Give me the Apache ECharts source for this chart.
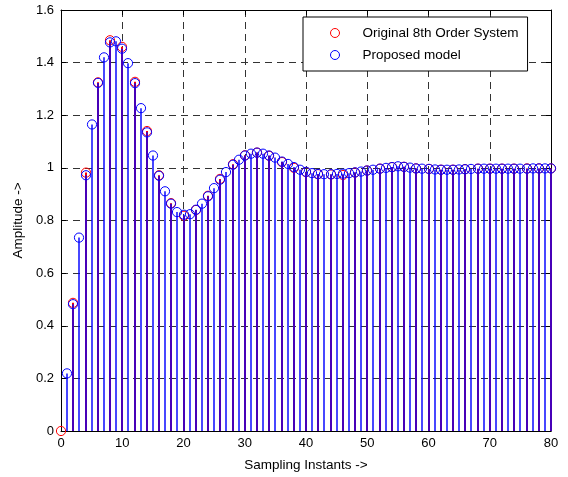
<!DOCTYPE html>
<html>
<head>
<meta charset="utf-8">
<script src="https://cdn.jsdelivr.net/npm/echarts@6/dist/echarts.min.js"></script>
<style>html,body{margin:0;padding:0;background:#fff;}#c{width:568px;height:477px;}</style>
</head>
<body>
<div id="c"></div>
<script>
// Proposed model: samples n = 1..80
var blueIdx = [];
for (var i = 1; i <= 80; i++) blueIdx.push(i);
var blueVals = [0.219,0.482,0.735,0.972,1.165,1.323,1.420,1.477,1.481,1.453,
  1.398,1.322,1.227,1.135,1.047,0.970,0.911,0.864,0.832,0.822,
  0.824,0.841,0.864,0.892,0.923,0.955,0.984,1.012,1.031,1.047,
  1.054,1.058,1.054,1.047,1.039,1.024,1.015,1.003,0.993,0.985,
  0.980,0.977,0.976,0.976,0.977,0.978,0.980,0.983,0.986,0.990,
  0.993,0.997,1.000,1.003,1.006,1.004,1.001,0.998,0.997,0.996,
  0.994,0.993,0.993,0.993,0.994,0.995,0.996,0.997,0.997,0.997,
  0.997,0.997,0.997,0.997,0.997,0.997,0.998,0.998,0.998,0.998];
// Original 8th order system: samples n = 0,2,...,80
var redIdx = [];
for (var j = 0; j <= 80; j += 2) redIdx.push(j);
var redVals = [0,0.487,0.982,1.325,1.485,1.460,1.327,1.140,0.972,0.866,
  0.818,0.840,0.894,0.958,1.014,1.048,1.058,1.046,1.022,1.000,
  0.984,0.976,0.975,0.973,0.982,0.990,0.997,1.003,1.004,0.998,
  0.996,0.993,0.993,0.995,0.997,0.997,0.997,0.997,0.998,0.998,0.998];
var xTicks = [0,10,20,30,40,50,60,70,80];
var yTicks = [0,0.2,0.4,0.6,0.8,1,1.2,1.4,1.6];

function pairs(xs, ys){ return xs.map(function(x,k){ return [x, ys[k]]; }); }

function stem(lineColor, lineW, markColor){
  return function(params, api){
    var x = api.value(0), y = api.value(1);
    var p0 = api.coord([x, 0]);
    var p1 = api.coord([x, y]);
    var px = Math.round(p0[0]);
    return {type:'group', children:[
      {type:'line', shape:{x1:px, y1:p0[1], x2:px, y2:p1[1]},
       style:{stroke:lineColor, lineWidth:lineW}},
      {type:'circle', shape:{cx:px, cy:p1[1], r:4.6},
       style:{fill:null, stroke:markColor, lineWidth:1}}
    ]};
  };
}

var font = 'Liberation Sans, Arial, sans-serif';
var chart = echarts.init(document.getElementById('c'));
chart.setOption({
  animation:false,
  backgroundColor:'#fff',
  grid:{left:61, right:17, top:10, bottom:46},
  legend:{
    left:303, top:17, orient:'vertical',
    backgroundColor:'#fff', borderColor:'#000', borderWidth:1,
    padding:[8,9,8,27], itemGap:6, itemWidth:9, itemHeight:9,
    textStyle:{fontFamily:font, fontSize:13.5, color:'#000', lineHeight:16, padding:[0,0,0,18]},
    z:10,
    data:[
      {name:'Original 8th Order System', icon:'circle', itemStyle:{color:'rgba(0,0,0,0)', borderColor:'#ff0000', borderWidth:1}},
      {name:'Proposed model', icon:'circle', itemStyle:{color:'rgba(0,0,0,0)', borderColor:'#0000ff', borderWidth:1}}
    ]
  },
  xAxis:[{
    type:'value', min:0, max:80, interval:10, position:'bottom',
    name:'Sampling Instants ->', nameLocation:'middle', nameGap:27,
    nameTextStyle:{fontFamily:font, fontSize:13.5, color:'#000'},
    axisLine:{show:true, onZero:false, lineStyle:{color:'#000', width:1}},
    axisTick:{show:true, inside:true, length:5, lineStyle:{color:'#000'}},
    axisLabel:{fontFamily:font, fontSize:13, color:'#000', margin:6},
    splitLine:{show:true, lineStyle:{color:'#333', type:[7,5], width:1}}
  },{
    type:'value', min:0, max:80, interval:10, position:'top',
    axisLine:{show:true, onZero:false, lineStyle:{color:'#000', width:1}},
    axisTick:{show:true, inside:true, length:5, lineStyle:{color:'#000'}},
    axisLabel:{show:false}, splitLine:{show:false}
  }],
  yAxis:[{
    type:'value', min:0, max:1.6, interval:0.2, position:'left',
    name:'Amplitude ->', nameLocation:'middle', nameGap:34, nameRotate:90,
    nameTextStyle:{fontFamily:font, fontSize:13.5, color:'#000'},
    axisLine:{show:true, onZero:false, lineStyle:{color:'#000', width:1}},
    axisTick:{show:true, inside:true, length:5, lineStyle:{color:'#000'}},
    axisLabel:{fontFamily:font, fontSize:13, color:'#000', margin:7,
      formatter:function(v){ return String(Math.round(v*10)/10); }},
    splitLine:{show:true, lineStyle:{color:'#333', type:[7,5], width:1}}
  },{
    type:'value', min:0, max:1.6, interval:0.2, position:'right',
    axisLine:{show:true, onZero:false, lineStyle:{color:'#000', width:1}},
    axisTick:{show:true, inside:true, length:5, lineStyle:{color:'#000'}},
    axisLabel:{show:false}, splitLine:{show:false}
  }],
  series:[
    {name:'Original 8th Order System', type:'custom', xAxisIndex:0, yAxisIndex:0,
     renderItem:stem('#ff0000', 2, '#ff0000'), data:pairs(redIdx, redVals), z:3},
    {name:'Proposed model', type:'custom', xAxisIndex:0, yAxisIndex:0,
     renderItem:stem('rgba(0,0,255,0.72)', 2, '#0000ff'), data:pairs(blueIdx, blueVals), z:4}
  ]
});
</script>
</body>
</html>
